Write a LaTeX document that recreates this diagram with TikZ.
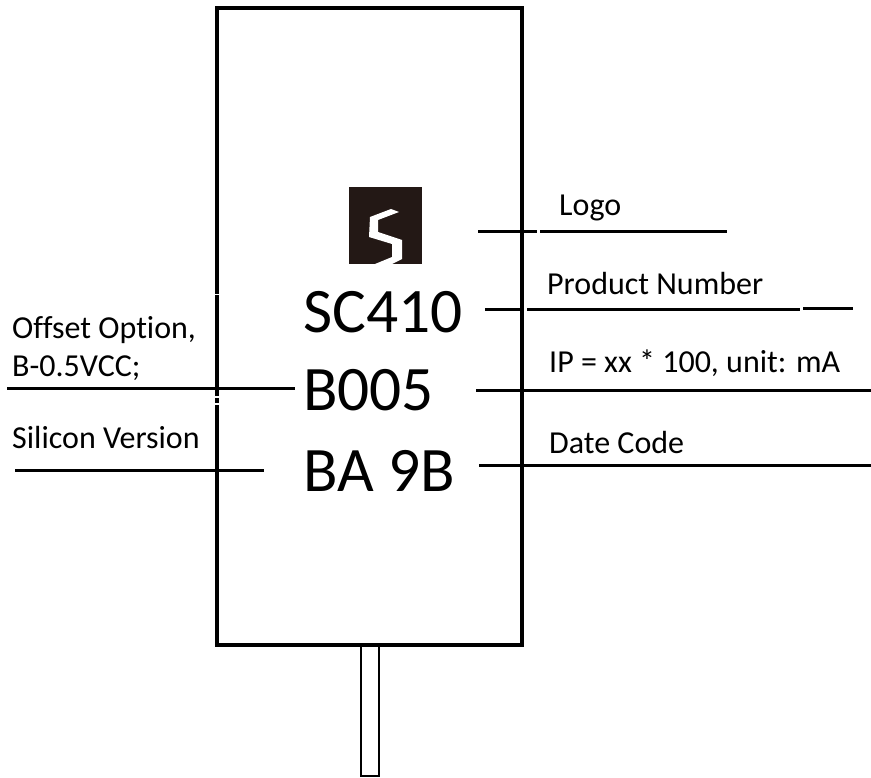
\documentclass[tikz,border=0pt]{standalone}
\usepackage{fontspec}
\setmainfont[Ligatures=NoCommon]{Carlito}
\usetikzlibrary{positioning}
\definecolor{logobg}{HTML}{231815}

\begin{document}
\begin{tikzpicture}[
    x=1pt, y=-1pt,
    every node/.style={inner sep=0pt, anchor=base west},
    chipmark/.style={font=\fontsize{63.4}{64}\selectfont},
    lbl/.style={font=\fontsize{32}{36}\selectfont},
    lead/.style={line width=3pt},
    wall/.style={draw, line width=4pt, outer sep=0pt}
]
    \useasboundingbox (0,0) rectangle (871,778);

    % package body and pin
    \draw[line width=2pt] (361,646) rectangle (379,776);
    \node[wall, anchor=north west, minimum width=305pt, minimum height=637pt] (body) at (217,8) {};

    % logo
    \fill[logobg] (349,187) rectangle (422,264);
    \fill[white] (399,212) -- (391,209) -- (370,217) -- (369,237) -- (392,244)
        -- (392,257) -- (375,264) -- (392,264) -- (402,259) -- (402,240)
        -- (378,232) -- (378,220) -- cycle;

    % marking
    \node[chipmark] (num) at (303,333) {SC410};
    \node[chipmark] (cur) at (303,410) {B005};
    \node[chipmark] (ver) at (303,491) {BA 9B};

    % labels
    \node[lbl] (tlogo) at (559,216) {Logo};
    \node[lbl] (tnum) at (547,295) {Product Number};
    \node[lbl] (tcur) at (549,373) {IP = xx * 100, unit: mA};
    \node[lbl] (tver) at (549,453) {Date Code};
    \node[lbl] (topt) at (12,339) {Offset Option,};
    \node[lbl] (tbv) at (12,377) {B-0.5VCC;};
    \node[lbl] (tsil) at (12,448) {Silicon Version};

    % leader lines
    \coordinate (la) at (478,231.5);
    \coordinate (lb) at (537,231.5);
    \coordinate (lc) at (540,231.5);
    \coordinate (ld) at (727,231.5);
    \draw[lead] (la) -- (lb);
    \draw[lead] (lc) -- (ld);
    \coordinate (na) at (485,310);
    \coordinate (nb) at (524,310);
    \coordinate (nc) at (527,310);
    \coordinate (nd) at (800,310);
    \coordinate (ne) at (803,309);
    \coordinate (nf) at (853,309);
    \draw[lead] (na) -- (nb);
    \draw[lead] (nc) -- (nd);
    \draw[lead] (ne) -- (nf);
    \coordinate (ia) at (476,390);
    \coordinate (ib) at (871,390);
    \draw[lead] (ia) -- (ib);
    \coordinate (da) at (479,465);
    \coordinate (db) at (871,465);
    \draw[lead] (da) -- (db);
    \coordinate (oa) at (7,388.5);
    \coordinate (ob) at (295,388.5);
    \draw[lead] (oa) -- (ob);
    \coordinate (sa) at (15,470);
    \coordinate (sb) at (264,470);
    \draw[lead] (sa) -- (sb);

    % breaks in the left wall
    \coordinate (gapa) at (217,295);
    \coordinate (gapb) at (217,397);
    \coordinate (gapc) at (217,404);
    \draw[white, line width=1pt] ([xshift=-2.5pt]gapa) -- ([xshift=2.5pt]gapa);
    \draw[white, line width=1.6pt] ([xshift=-2.5pt]gapb) -- ([xshift=2.5pt]gapb);
    \draw[white, line width=1.6pt] ([xshift=-2.5pt]gapc) -- ([xshift=2.5pt]gapc);
\end{tikzpicture}
\end{document}
